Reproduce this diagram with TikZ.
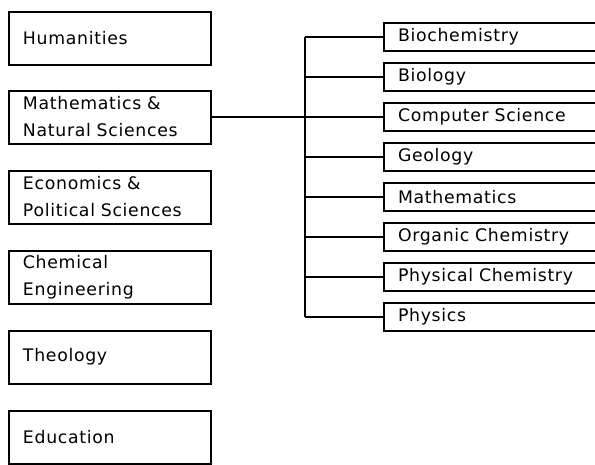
\documentclass[tikz,border=0pt]{standalone}
\usepackage{fontspec}
\newfontfamily\boxfont[LetterSpace=4]{DejaVu Sans}
\usetikzlibrary{positioning}

\tikzset{
  faculty/.style={draw, line width=2pt, rectangle, anchor=west, minimum height=53pt,
    text width=174pt, inner xsep=14pt, align=left, font=\boxfont\fontsize{17.3}{27}\selectfont},
  dept/.style={draw, line width=2pt, rectangle, anchor=west, minimum height=28pt,
    text width=212pt, inner xsep=14pt, inner ysep=2pt, align=left, font=\boxfont\fontsize{17.3}{20}\selectfont}
}

\begin{document}
\begin{tikzpicture}[x=1pt, y=-1pt, line width=2pt]
  \clip (0,0) rectangle (595,464);

  % faculties
  \node[faculty] (hum) at (8,38) {Humanities};
  \node[faculty] (mns) at (8,117) {Mathematics \&\\Natural Sciences};
  \node[faculty] (eps) at (8,197) {Economics \&\\Political Sciences};
  \node[faculty] (che) at (8,277) {Chemical\\Engineering};
  \node[faculty] (the) at (8,357) {Theology};
  \node[faculty] (edu) at (8,437) {Education};

  % departments
  \node[dept] (bioc) at (383,37) {Biochemistry};
  \node[dept] (biol) at (383,77) {Biology};
  \node[dept] (comp) at (383,117) {Computer Science};
  \node[dept] (geol) at (383,157) {Geology};
  \node[dept] (math) at (383,197) {Mathematics};
  \node[dept] (orgc) at (383,237) {Organic Chemistry};
  \node[dept] (phyc) at (383,277) {Physical Chemistry};
  \node[dept] (phys) at (383,317) {Physics};

  \coordinate (trunk) at (305,37);
  \draw (trunk) -- (trunk |- phys.west);
  \foreach \d in {bioc,biol,comp,geol,math,orgc,phyc,phys}
    \draw (\d.west) -- (\d.west -| trunk);
  \draw (mns.east) -- (comp.west);
\end{tikzpicture}
\end{document}
